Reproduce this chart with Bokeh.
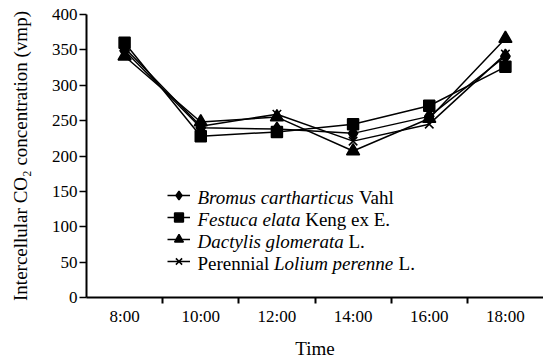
from bokeh.plotting import figure
from bokeh.models import Range1d, FixedTicker, Legend, LegendItem, Label
from bokeh.embed import file_html
from bokeh.resources import INLINE

# ---- data ----
times = ["8:00", "10:00", "12:00", "14:00", "16:00", "18:00"]
bromus = [349, 240, 238, 232, 256, 341]
festuca = [360, 228, 234, 245, 271, 326]
dactylis = [341, 248, 255, 207, 253, 366]
lolium = [353, 242, 259, 221, 245, 344]
y_ticks = [0, 50, 100, 150, 200, 250, 300, 350, 400]

legend_rows = [
    [("Bromus cartharticus", True), ("Vahl", False)],
    [("Festuca elata", True), ("Keng ex E.", False)],
    [("Dactylis glomerata", True), ("L.", False)],
    [("Perennial", False), ("Lolium perenne", True), ("L.", False)],
]

FONT = "Liberation Serif"
FS = 19

x = list(range(len(times)))
X0, X1 = -0.5, 5.5

p = figure(width=543, height=364, output_backend="svg", toolbar_location=None,
           x_range=Range1d(X0, X1), y_range=Range1d(0, 400),
           min_border_left=86, min_border_right=0, min_border_top=14,
           min_border_bottom=67)
p.outline_line_color = None
p.grid.visible = False
p.background_fill_color = "white"
p.border_fill_color = "white"

# x axis: labels at categories, tick marks between categories
xa = p.xaxis[0]
xa.ticker = FixedTicker(ticks=x, minor_ticks=[i + 0.5 for i in x[:-1]])
xa.major_label_overrides = {i: t for i, t in zip(x, times)}
xa.major_tick_out = 0
xa.major_tick_in = 0
xa.minor_tick_out = 6
xa.minor_tick_in = 0
xa.minor_tick_line_width = 2
xa.minor_tick_line_color = "black"
xa.major_label_standoff = 3
xa.axis_label = "Time"
xa.axis_label_standoff = 9

# y axis
ya = p.yaxis[0]
ya.ticker = FixedTicker(ticks=y_ticks, minor_ticks=[])
ya.major_tick_out = 7
ya.major_tick_in = 0
ya.major_tick_line_width = 1.5
ya.major_label_standoff = 2
ya.axis_label = "Intercellular CO\u2082 concentration (vmp)"
ya.axis_label_standoff = 18

for ax in (xa, ya):
    ax.axis_line_width = 2
    ax.axis_line_color = "black"
    ax.major_tick_line_color = "black"
    ax.major_label_text_font = FONT
    ax.major_label_text_font_size = "17px"
    ax.major_label_text_font_style = "normal"
    ax.major_label_text_color = "black"
    ax.axis_label_text_font = FONT
    ax.axis_label_text_font_size = f"{FS}px"
    ax.axis_label_text_font_style = "normal"
    ax.axis_label_text_color = "black"

series = [
    (bromus, "diamond", 14),
    (festuca, "square", 11),
    (dactylis, "triangle", 13),
    (lolium, "x", 12),
]

items = []
for vals, marker, size in series:
    lr = p.line(x, vals, line_color="black", line_width=1.5)
    sr = p.scatter(x, vals, marker=marker, size=size, fill_color="black",
                   line_color="black", line_width=1.5)
    items.append(LegendItem(label=" ", renderers=[lr, sr]))

legend = Legend(items=items, location=(81, 25), glyph_width=23, glyph_height=22,
                label_height=20, label_width=1, spacing=0, padding=0, margin=0,
                border_line_color=None, background_fill_alpha=0,
                label_text_font_size="1px", label_standoff=0)
p.add_layout(legend)

# legend text (mixed italic/regular), positioned next to legend glyphs
W_REG = {' ': 250, 'V': 722, 'a': 444, 'h': 500, 'l': 278, 'K': 722, 'e': 444,
         'n': 500, 'g': 500, 'x': 500, 'E': 611, '.': 250, 'L': 611, 'P': 556,
         'r': 333, 'i': 278}
W_IT = {'B': 611, 'r': 389, 'o': 500, 'm': 722, 'u': 500, 's': 389, ' ': 250,
        'c': 444, 'a': 500, 't': 278, 'h': 500, 'i': 278, 'F': 611, 'e': 444,
        'l': 278, 'D': 722, 'y': 444, 'g': 500, 'L': 556, 'p': 500, 'n': 500}
SPACE = 250 * FS / 1000.0


def text_width(s, italic):
    tbl = W_IT if italic else W_REG
    return sum(tbl.get(c, 500) for c in s) * FS / 1000.0


px_per_x = 457 / (X1 - X0)
px_per_y = 283 / 400
text_x = X0 + (197 - 86) / px_per_x
row_page_y = [197, 219, 241, 263]
for row, ypg in zip(legend_rows, row_page_y):
    yd = (297 - ypg) / px_per_y
    off = 0.0
    for txt, italic in row:
        p.add_layout(Label(x=text_x, y=yd, x_offset=off, text=txt,
                           text_font=FONT, text_font_size=f"{FS}px",
                           text_font_style="italic" if italic else "normal",
                           text_baseline="middle", text_align="left",
                           text_color="black"))
        off += text_width(txt, italic) + SPACE

open("out.html", "w").write(file_html(p, INLINE))
